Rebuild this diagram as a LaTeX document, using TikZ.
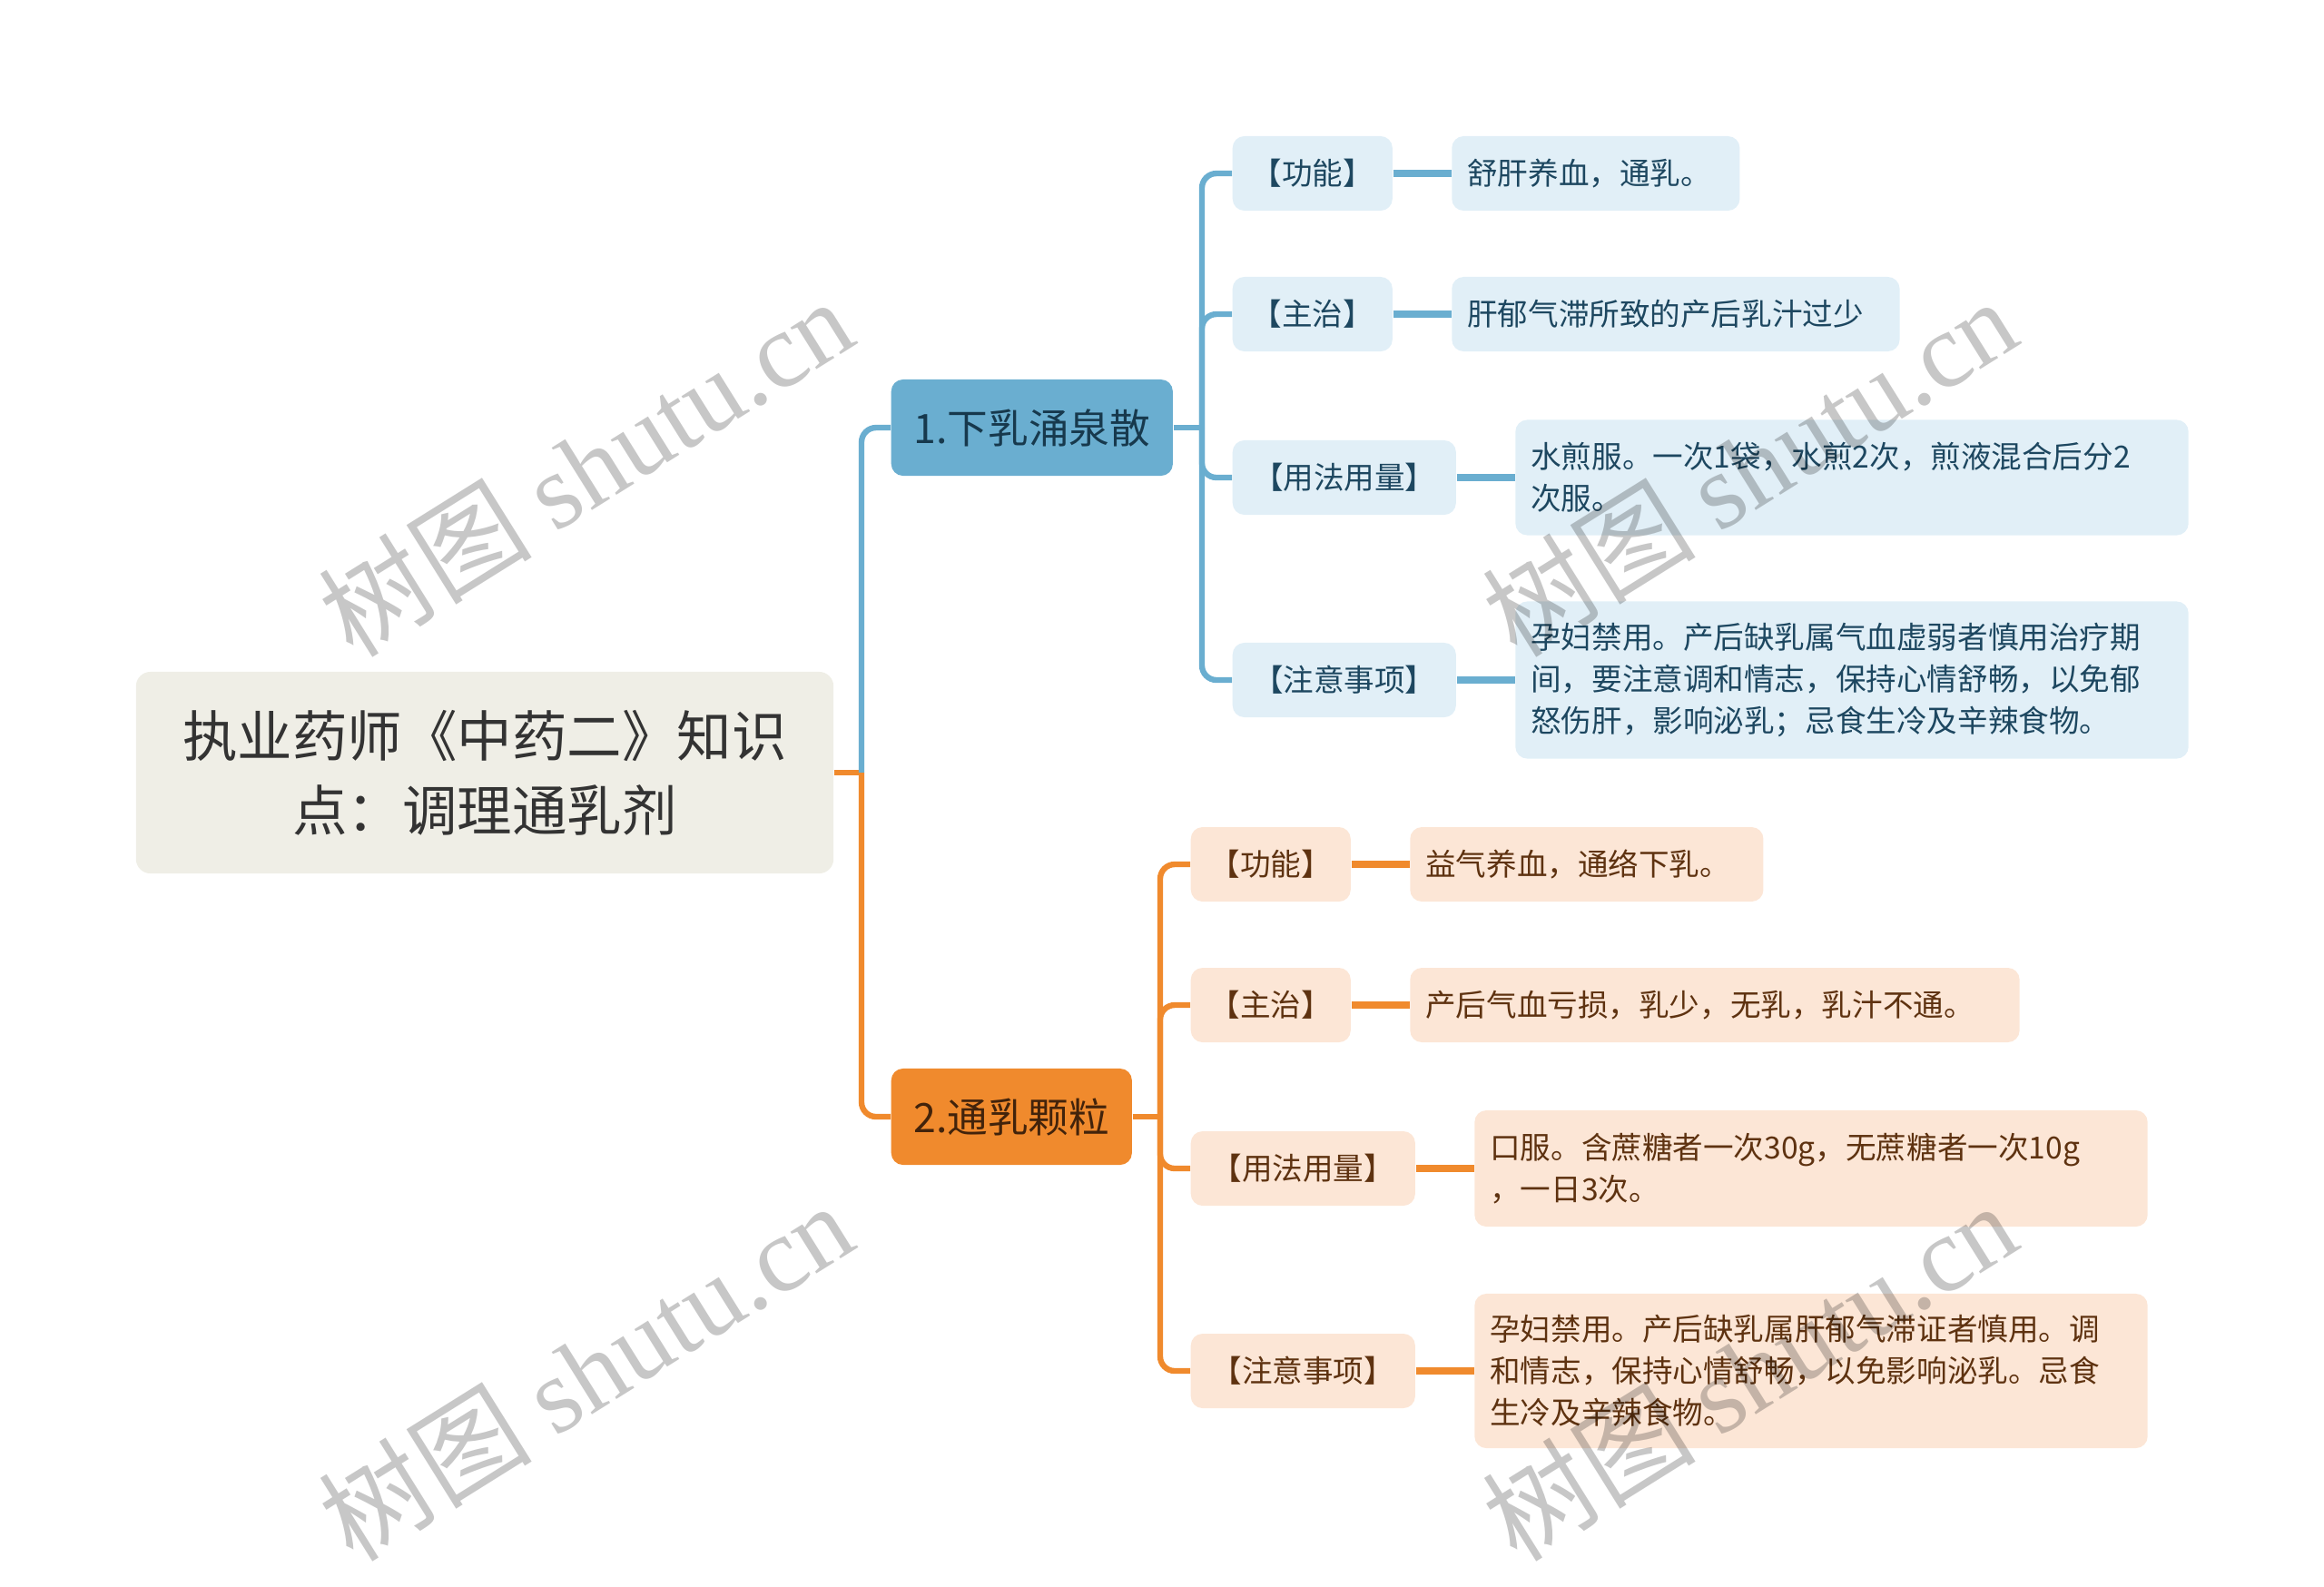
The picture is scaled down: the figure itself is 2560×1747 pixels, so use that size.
\documentclass[tikz,border=0pt]{standalone}
\usepackage{fontspec}
\setmainfont{Noto Sans CJK SC}
\newfontfamily\markfont{Liberation Serif}
\usetikzlibrary{positioning}
\definecolor{tlrootbg}{HTML}{EFEEE6}
\definecolor{tlrootfg}{HTML}{333333}
\definecolor{tlblue}{HTML}{6AAED0}
\definecolor{tlbluebg}{HTML}{E1EFF7}
\definecolor{tlbluefg}{HTML}{1D4760}
\definecolor{tlorange}{HTML}{F08A2D}
\definecolor{tlorangebg}{HTML}{FCE6D6}
\definecolor{tlorangefg}{HTML}{5E3210}
\begin{document}
\begin{tikzpicture}[x=0.01cm, y=-0.01cm,
  tlroot/.style = {fill=tlrootbg, text=tlrootfg, rounded corners=0.16cm,
    minimum width=7.68cm, minimum height=2.22cm, align=center,
    font=\fontsize{17.2pt}{23.4pt}\selectfont},
  tlmain/.style = {anchor=west, rounded corners=0.13cm, minimum height=1.06cm,
    font=\fontsize{12.7pt}{15pt}\selectfont},
  tllab/.style = {anchor=west, rounded corners=0.13cm, minimum height=0.82cm,
    inner xsep=0.1cm, align=center, font=\fontsize{9.55pt}{13pt}\selectfont},
  tlleaf/.style = {rounded corners=0.13cm, minimum height=0.82cm, inner xsep=0.17cm,
    align=left, font=\fontsize{9.55pt}{13.1pt}\selectfont},
  tlA/.style = {fill=tlbluebg, text=tlbluefg},
  tlB/.style = {fill=tlorangebg, text=tlorangefg},
  tllinkA/.style = {draw=tlblue, line width=1.8pt, rounded corners=0.16cm},
  tllinkB/.style = {draw=tlorange, line width=1.8pt, rounded corners=0.16cm},
  tlmark/.style = {text=black, opacity=0.22, rotate=32, font=\fontsize{33.5pt}{33.5pt}\selectfont}
]
  \useasboundingbox (0,0) rectangle (2560,1747);
  % 中心主题
  \node[tlroot] (root) at (534,851) {执业药师《中药二》知识\\点：调理通乳剂};
  % 分支
  \node[tlmain, fill=tlblue, text=tlbluefg!80!black, minimum width=3.10cm] (mainA) at (981,471) {1.下乳涌泉散};
  \node[tlmain, fill=tlorange, text=tlorangefg!70!black, minimum width=2.65cm] (mainB) at (981,1230) {2.通乳颗粒};
  \coordinate (forkR) at (949,851);
  \coordinate (forkA) at (1324,471);
  \coordinate (forkB) at (1278,1230);
  % 下乳涌泉散
  \node[tllab, tlA, minimum width=1.76cm] (labA1) at (1357,191) {【功能】};
  \node[tllab, tlA, minimum width=1.76cm] (labA2) at (1357,346) {【主治】};
  \node[tllab, tlA, minimum width=2.46cm] (labA3) at (1357,526) {【用法用量】};
  \node[tllab, tlA, minimum width=2.46cm] (labA4) at (1357,749) {【注意事项】};
  \node[tlleaf, tlA, text width=2.83cm, right=0.64cm of labA1] (leafA1) {舒肝养血，通乳。};
  \node[tlleaf, tlA, text width=4.59cm, right=0.64cm of labA2] (leafA2) {肝郁气滞所致的产后乳汁过少};
  \node[tlleaf, tlA, text width=7.07cm, minimum height=1.27cm, right=0.64cm of labA3] (leafA3)
    {水煎服。一次1袋，水煎2次，煎液混合后分2\\次服。};
  \node[tlleaf, tlA, text width=7.07cm, minimum height=1.73cm, right=0.64cm of labA4] (leafA4)
    {孕妇禁用。产后缺乳属气血虚弱者慎用治疗期\\间，要注意调和情志，保持心情舒畅，以免郁\\怒伤肝，影响泌乳；忌食生冷及辛辣食物。};
  % 通乳颗粒
  \node[tllab, tlB, minimum width=1.76cm] (labB1) at (1311,952) {【功能】};
  \node[tllab, tlB, minimum width=1.76cm] (labB2) at (1311,1107) {【主治】};
  \node[tllab, tlB, minimum width=2.47cm] (labB3) at (1311,1287) {【用法用量】};
  \node[tllab, tlB, minimum width=2.47cm] (labB4) at (1311,1510) {【注意事项】};
  \node[tlleaf, tlB, text width=3.55cm, right=0.64cm of labB1] (leafB1) {益气养血，通络下乳。};
  \node[tlleaf, tlB, text width=6.37cm, right=0.64cm of labB2] (leafB2) {产后气血亏损，乳少，无乳，乳汁不通。};
  \node[tlleaf, tlB, text width=7.07cm, minimum height=1.28cm, right=0.64cm of labB3] (leafB3)
    {口服。含蔗糖者一次30g，无蔗糖者一次10g\\，一日3次。};
  \node[tlleaf, tlB, text width=7.07cm, minimum height=1.70cm, right=0.64cm of labB4] (leafB4)
    {孕妇禁用。产后缺乳属肝郁气滞证者慎用。调\\和情志，保持心情舒畅，以免影响泌乳。忌食\\生冷及辛辣食物。};
  % 连线
  \draw[tllinkB] (root.east) -- (forkR);
  \draw[tllinkA] (forkR) |- (mainA.west);
  \draw[tllinkB] (forkR) |- (mainB.west);
  \draw[tllinkA] (mainA.east) -- (forkA);
  \draw[tllinkB] (mainB.east) -- (forkB);
  \foreach \i in {1,...,4} {
    \draw[tllinkA] (forkA) |- (labA\i.west);
    \draw[tllinkA, line width=2.2pt] (labA\i.east) -- (leafA\i.west);
    \draw[tllinkB] (forkB) |- (labB\i.west);
    \draw[tllinkB, line width=2.2pt] (labB\i.east) -- (leafB\i.west);
  }
  % 水印
  \foreach \mx/\my [count=\k] in {645/514, 1927/514, 645/1510, 1927/1510}
    \node[tlmark] (mark\k) at (\mx,\my) {树图 {\markfont shutu.cn}};
\end{tikzpicture}
\end{document}
